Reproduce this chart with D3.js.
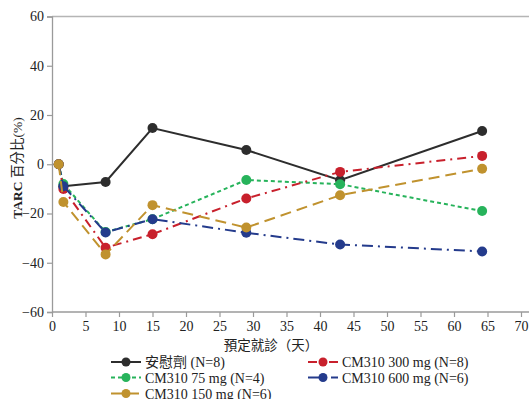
<!DOCTYPE html>
<html><head><meta charset="utf-8">
<script src="https://cdn.jsdelivr.net/npm/d3@7"></script>
<style>
body{margin:0;background:#fff;}
text{font-family:"Liberation Serif","Noto Sans CJK TC",serif;fill:#222;}
</style></head>
<body><svg id="c" width="529" height="399"></svg>
<script>
// ---- data ----
const xTicks = [0,5,10,15,20,25,30,35,40,45,50,55,60,65,70];
const yTicks = [-60,-40,-20,0,20,40,60];
const placeboX = [1.7, 8, 15, 29, 43, 64.2];
const placeboY = [-8.9, -7.2, 14.7, 5.8, -6.5, 13.5];
const mg75X = [1, 1.7, 8, 15, 29, 43, 64.2];
const mg75Y = [0, -8, -27.5, -22.3, -6.4, -8.1, -19];
const mg150X = [1, 1.7, 8, 15, 29, 43, 64.2];
const mg150Y = [0, -15.3, -36.6, -16.6, -25.7, -12.6, -1.8];
const mg300X = [1, 1.7, 8, 15, 29, 43, 64.2];
const mg300Y = [0, -10, -33.9, -28.4, -13.9, -3.1, 3.4];
const mg600X = [1, 1.7, 8, 15, 29, 43, 64.2];
const mg600Y = [0, -8.9, -27.7, -22.3, -27.8, -32.6, -35.4];
const seriesNames = ["安慰劑 (N=8)","CM310 75 mg (N=4)","CM310 150 mg (N=6)","CM310 300 mg (N=8)","CM310 600 mg (N=6)"];
const xTitle = "預定就診（天）";

const series = [
  {name:seriesNames[0], xs:placeboX, ys:placeboY, color:"#2d2d2d", dash:null},
  {name:seriesNames[1], xs:mg75X, ys:mg75Y, color:"#27b35b", dash:"4,3"},
  {name:seriesNames[2], xs:mg150X, ys:mg150Y, color:"#c0922e", dash:"11,6"},
  {name:seriesNames[3], xs:mg300X, ys:mg300Y, color:"#c8202c", dash:"9,5,2,5"},
  {name:seriesNames[4], xs:mg600X, ys:mg600Y, color:"#243b8c", dash:"11,5,2,5"}
];
const drawOrder = [0,1,3,4,2];

const svg = d3.select("#c");
const x = d3.scaleLinear().domain([0,70]).range([52,521]);
const y = d3.scaleLinear().domain([-60,60]).range([312,16.5]);

// top border
svg.append("line").attr("x1",52).attr("x2",529).attr("y1",y(60)).attr("y2",y(60))
  .attr("stroke","#b5b5b5").attr("stroke-width",1.3);

const xa = svg.append("g").attr("transform",`translate(0,${y(-60)})`)
  .call(d3.axisBottom(x).tickValues(xTicks).tickSize(5).tickPadding(4).tickFormat(d3.format("d")));
xa.select(".domain").attr("d",`M52,0H529`);
const ya = svg.append("g").attr("transform",`translate(${x(0)},0)`)
  .call(d3.axisLeft(y).tickValues(yTicks).tickSize(5).tickPadding(3).tickFormat(d3.format("d")));
[xa,ya].forEach(a=>{
  a.selectAll(".domain").attr("stroke","#9a9a9a").attr("stroke-width",1.3);
  a.selectAll(".tick line").attr("stroke","#9a9a9a").attr("stroke-width",1.2);
  a.selectAll("text").style("font-size","14px").style("font-family",'"Liberation Serif",serif').attr("fill","#222");
});

// axis titles
svg.append("text").attr("x",271).attr("y",350).attr("text-anchor","middle")
  .style("font-size","13.5px").text(xTitle);
const yt = svg.append("text").attr("transform","translate(22,168) rotate(-90)").attr("text-anchor","middle")
  .style("font-size","13.5px");
yt.append("tspan").style("font-weight","bold").text("TARC ");
yt.append("tspan").text("百分比(%)");

// lines
const line = d3.line().x(d=>x(d[0])).y(d=>y(d[1]));
drawOrder.forEach(i=>{
  const s = series[i];
  const pts = s.xs.map((v,k)=>[v,s.ys[k]]);
  const g = svg.append("g");
  g.append("path").datum(pts).attr("d",line).attr("fill","none")
    .attr("stroke",s.color).attr("stroke-width",2).attr("stroke-dasharray",s.dash);
  g.selectAll("circle").data(pts).join("circle")
    .attr("cx",d=>x(d[0])).attr("cy",d=>y(d[1])).attr("r",5).attr("fill",s.color);
});

// legend
const legendPos = [[111,362],[111,377.5],[111,393.5],[308,362],[308,377.5]];
series.forEach((s,i)=>{
  const [lx,ly] = legendPos[i];
  const g = svg.append("g").attr("transform",`translate(${lx},${ly})`);
  g.append("line").attr("x1",0).attr("x2",30).attr("y1",0).attr("y2",0)
    .attr("stroke",s.color).attr("stroke-width",2).attr("stroke-dasharray",s.dash);
  g.append("circle").attr("cx",15).attr("cy",0).attr("r",4.5).attr("fill",s.color);
  g.append("text").attr("x",34).attr("y",5).style("font-size","14px").text(s.name);
});
</script></body></html>
